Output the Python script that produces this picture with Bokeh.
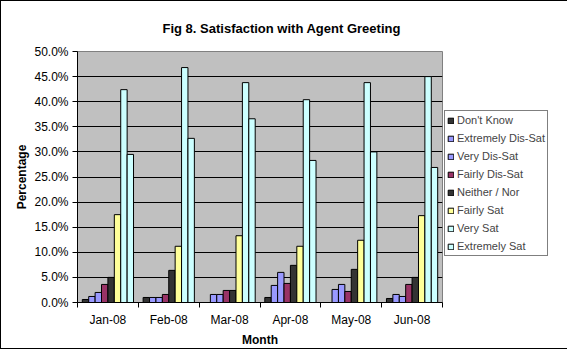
import numpy as np
from bokeh.plotting import figure
from bokeh.models import (FixedTicker, NumeralTickFormatter, Legend, LegendItem, Range1d)
from bokeh.embed import file_html
from bokeh.resources import INLINE

months = ["Jan-08", "Feb-08", "Mar-08", "Apr-08", "May-08", "Jun-08"]
series_names = ["Don't Know", "Extremely Dis-Sat", "Very Dis-Sat", "Fairly Dis-Sat",
                "Neither / Nor", "Fairly Sat", "Very Sat", "Extremely Sat"]
dont_know = [0.6, 1.0, 0.0, 1.0, 0.0, 0.8]
extremely_dis_sat = [1.2, 1.0, 1.6, 3.4, 2.6, 1.6]
very_dis_sat = [2.0, 1.0, 1.6, 6.0, 3.6, 1.2]
fairly_dis_sat = [3.6, 1.6, 2.4, 3.8, 2.2, 3.6]
neither_nor = [5.0, 6.4, 2.4, 7.4, 6.6, 5.0]
fairly_sat = [17.5, 11.2, 13.3, 11.2, 12.4, 17.3]
very_sat = [42.4, 46.8, 43.8, 40.4, 43.8, 45.0]
extremely_sat = [29.5, 32.7, 36.6, 28.3, 30.0, 26.9]
y_ticks = [0.0, 0.05, 0.10, 0.15, 0.20, 0.25, 0.30, 0.35, 0.40, 0.45, 0.50]

series_values = [dont_know, extremely_dis_sat, very_dis_sat, fairly_dis_sat,
                 neither_nor, fairly_sat, very_sat, extremely_sat]
colors = ["#333333", "#9999FF", "#9999FF", "#993366", "#333333", "#FFFF99", "#CCFFFF", "#CCFFFF"]

FONT = "Liberation Sans"
n_cat = len(months)
n_ser = len(series_names)
slot = n_ser + 1.5  # Excel gap width 150%
bar_w = 1.0 / slot

p = figure(width=551, height=347, frame_width=365, frame_height=251,
           min_border_left=77, min_border_right=109, min_border_top=51, min_border_bottom=45,
           x_range=Range1d(0, n_cat), y_range=Range1d(0, 0.5),
           output_backend="svg", toolbar_location=None, tools="",
           title="Fig 8. Satisfaction with Agent Greeting")
p.background_fill_color = "#C0C0C0"
p.border_fill_color = "white"
p.border_fill_alpha = 0
p.styles = {"background-color": "white", "outline": "1px solid black",
            "outline-offset": "-1px"}

p.outline_line_color = "#808080"

p.title.align = "left"
p.title.vertical_align = "top"
p.title.offset = 85
p.title.standoff = 28
p.title.text_font = FONT
p.title.text_font_size = "13px"
p.title.text_font_style = "bold"
p.title.text_color = "black"

items = []
for i, (name, vals, col) in enumerate(zip(series_names, series_values, colors)):
    xs = np.arange(n_cat) + 0.5 + (i - (n_ser - 1) / 2) * bar_w
    tops = np.array(vals) / 100.0
    r = p.vbar(x=xs, top=tops, bottom=0, width=bar_w, fill_color=col,
               line_color="black", line_width=1)
    items.append(LegendItem(label=name, renderers=[r]))

# grid
p.xgrid.visible = False
p.ygrid.grid_line_color = "black"
p.ygrid.grid_line_width = 1
p.ygrid.ticker = FixedTicker(ticks=y_ticks)

# y axis
p.yaxis.ticker = FixedTicker(ticks=y_ticks)
p.yaxis.formatter = NumeralTickFormatter(format="0.0%")
p.yaxis.major_tick_out = 5
p.yaxis.major_tick_in = 0
p.yaxis.minor_tick_line_color = None
p.yaxis.major_label_standoff = 4
p.yaxis.major_label_text_font = FONT
p.yaxis.major_label_text_font_size = "12px"
p.yaxis.major_label_text_color = "black"
p.yaxis.axis_line_color = "black"
p.yaxis.axis_label = "Percentage"
p.yaxis.axis_label_standoff = 2
p.yaxis.axis_label_text_font = FONT
p.yaxis.axis_label_text_font_size = "12px"
p.yaxis.axis_label_text_font_style = "bold"
p.yaxis.axis_label_text_color = "black"

# x axis
p.xaxis.ticker = FixedTicker(ticks=[k + 0.5 for k in range(n_cat)],
                             minor_ticks=list(range(n_cat + 1)))
p.xaxis.major_label_overrides = {k + 0.5: m for k, m in enumerate(months)}
p.xaxis.major_tick_line_color = None
p.xaxis.major_tick_out = 0
p.xaxis.major_tick_in = 0
p.xaxis.minor_tick_out = 5
p.xaxis.minor_tick_in = 0
p.xaxis.minor_tick_line_color = "black"
p.xaxis.major_label_standoff = 5
p.xaxis.major_label_text_font = FONT
p.xaxis.major_label_text_font_size = "12px"
p.xaxis.major_label_text_color = "black"
p.xaxis.axis_line_color = "black"
p.xaxis.axis_label = "Month"
p.xaxis.axis_label_standoff = 3
p.xaxis.axis_label_text_font = FONT
p.xaxis.axis_label_text_font_size = "12px"
p.xaxis.axis_label_text_font_style = "bold"
p.xaxis.axis_label_text_color = "black"

legend = Legend(items=items, location=(2, 46), border_line_color="black",
                border_line_width=1, background_fill_color="white", background_fill_alpha=1,
                label_text_font=FONT, label_text_font_size="11px", label_height=14,
                glyph_height=7, glyph_width=7, spacing=4, padding=2, margin=0,
                label_standoff=3)
p.add_layout(legend, "right")

open("out.html", "w").write(file_html(p, INLINE))
